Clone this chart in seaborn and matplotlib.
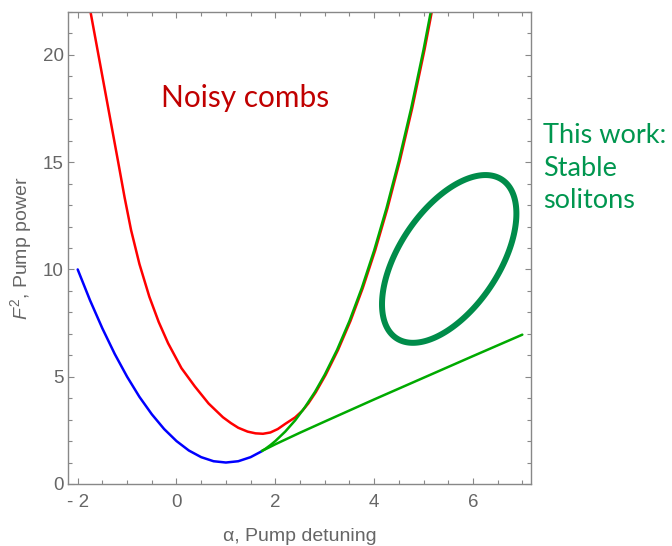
import numpy as np
import matplotlib
matplotlib.use('Agg')
import matplotlib.pyplot as plt
from matplotlib.patches import Polygon
from matplotlib.ticker import MultipleLocator
import seaborn as sns

# modulation instability threshold (blue)
mi_alpha = [-2.0, -1.75, -1.5, -1.25, -1.0, -0.75, -0.5, -0.25, 0.0, 0.25, 0.5, 0.75,
            1.0, 1.25, 1.5, 1.73]
mi_power = [10.0, 8.56, 7.25, 6.06, 5.0, 4.06, 3.25, 2.56, 2.0, 1.56, 1.25, 1.06,
            1.0, 1.06, 1.25, 1.53]

# noisy comb boundary (red)
noisy_alpha = [-1.74, -1.46, -1.18, -1.05, -0.92, -0.75, -0.55, -0.36, -0.17, 0.10,
               0.37, 0.65, 0.94, 1.10, 1.25, 1.44, 1.60, 1.75, 1.90, 2.05, 2.20, 2.40,
               2.55, 2.67, 2.82, 3.02, 3.27, 3.52, 3.77, 4.02, 4.27, 4.52, 4.77, 5.02, 5.27]
noisy_power = [22.0, 18.5, 15.0, 13.35, 11.84, 10.25, 8.73, 7.55, 6.56, 5.40,
               4.55, 3.75, 3.11, 2.84, 2.62, 2.44, 2.36, 2.34, 2.40, 2.56, 2.80, 3.10,
               3.42, 3.76, 4.28, 5.09, 6.25, 7.59, 9.13, 10.88, 12.85, 15.06, 17.51, 20.24, 23.24]

# soliton existence, upper branch (green)
upper_alpha = [1.73, 1.8, 1.9, 2.0, 2.2, 2.4, 2.6, 2.8, 3.0, 3.25, 3.5, 3.75, 4.0,
               4.25, 4.5, 4.75, 5.0, 5.25]
upper_power = [1.54, 1.64, 1.81, 2.0, 2.44, 2.96, 3.58, 4.28, 5.09, 6.25, 7.59, 9.13,
               10.88, 12.85, 15.06, 17.51, 20.24, 23.24]

# soliton existence, lower branch (green)
lower_alpha = [1.73, 1.8, 2.0, 2.5, 3.0, 4.0, 5.0, 6.0, 7.0]
lower_power = [1.54, 1.62, 1.85, 2.39, 2.91, 3.94, 4.95, 5.96, 6.96]

x_ticks = [-2, 0, 2, 4, 6]
x_tick_labels = ['- 2', '0', '2', '4', '6']
y_ticks = [0, 5, 10, 15, 20]

sns.set_style('ticks')
plt.rcParams['font.family'] = ['Liberation Sans', 'DejaVu Sans']
plt.rcParams['mathtext.fontset'] = 'custom'
plt.rcParams['mathtext.it'] = 'Liberation Sans:italic'
plt.rcParams['mathtext.rm'] = 'Liberation Sans'

fig = plt.figure(figsize=(6.72, 5.46), dpi=100)
ax = fig.add_axes([0.1012, 0.1136, 0.689, 0.8644])

lw = 1.8
sns.lineplot(x=noisy_alpha, y=noisy_power, ax=ax, color='#ff0000', linewidth=lw,
             sort=False, estimator=None)
sns.lineplot(x=upper_alpha, y=upper_power, ax=ax, color='#00aa00', linewidth=lw,
             sort=False, estimator=None)
sns.lineplot(x=mi_alpha, y=mi_power, ax=ax, color='#0000ff', linewidth=lw,
             sort=False, estimator=None)
sns.lineplot(x=lower_alpha, y=lower_power, ax=ax, color='#00aa00', linewidth=lw,
             sort=False, estimator=None)

# hand drawn style ellipse marking the stable soliton region
t = np.linspace(0, 2 * np.pi, 360, endpoint=False)
ell = np.column_stack([5.52 + 1.36 * np.cos(t), 10.49 + 3.91 * np.cos(t - 1.0)])
ax.add_patch(Polygon(ell, closed=True, fill=False, edgecolor='#008c4a',
                     linewidth=4.3, joinstyle='round', clip_on=False))

ax.set_xlim(-2.196, 7.176)
ax.set_ylim(0, 22)

ax.set_xticks(x_ticks)
ax.set_xticklabels(x_tick_labels)
ax.set_yticks(y_ticks)
ax.xaxis.set_minor_locator(MultipleLocator(0.5))
ax.yaxis.set_minor_locator(MultipleLocator(1))
ax.tick_params(which='both', direction='in', top=True, right=True,
               color='#888888', labelcolor='#666666', labelsize=13.5, width=0.8)
ax.tick_params(which='major', length=4.5)
ax.tick_params(which='minor', length=3)
ax.tick_params(axis='x', pad=7)
ax.tick_params(axis='y', pad=3.2)
for s in ax.spines.values():
    s.set_color('#888888')
    s.set_linewidth(1.0)

ax.set_xlabel('α, Pump detuning', fontsize=14, color='#666666')
ax.set_ylabel('$F^2$, Pump power', fontsize=14, color='#666666')
ax.xaxis.set_label_coords(0.5, -0.094)
ax.yaxis.set_label_coords(-0.074, 0.5)

ax.text(-0.31, 18.0, 'Noisy combs', color='#c00000', fontsize=21.5,
        family=['Lato', 'DejaVu Sans'], ha='left', va='center')
fig.text(0.808, 0.692, 'This work:\nStable\nsolitons', color='#00964f', fontsize=19.5,
         family=['Lato', 'DejaVu Sans'], ha='left', va='center', linespacing=1.36)

fig.savefig('out.png', dpi=100)
